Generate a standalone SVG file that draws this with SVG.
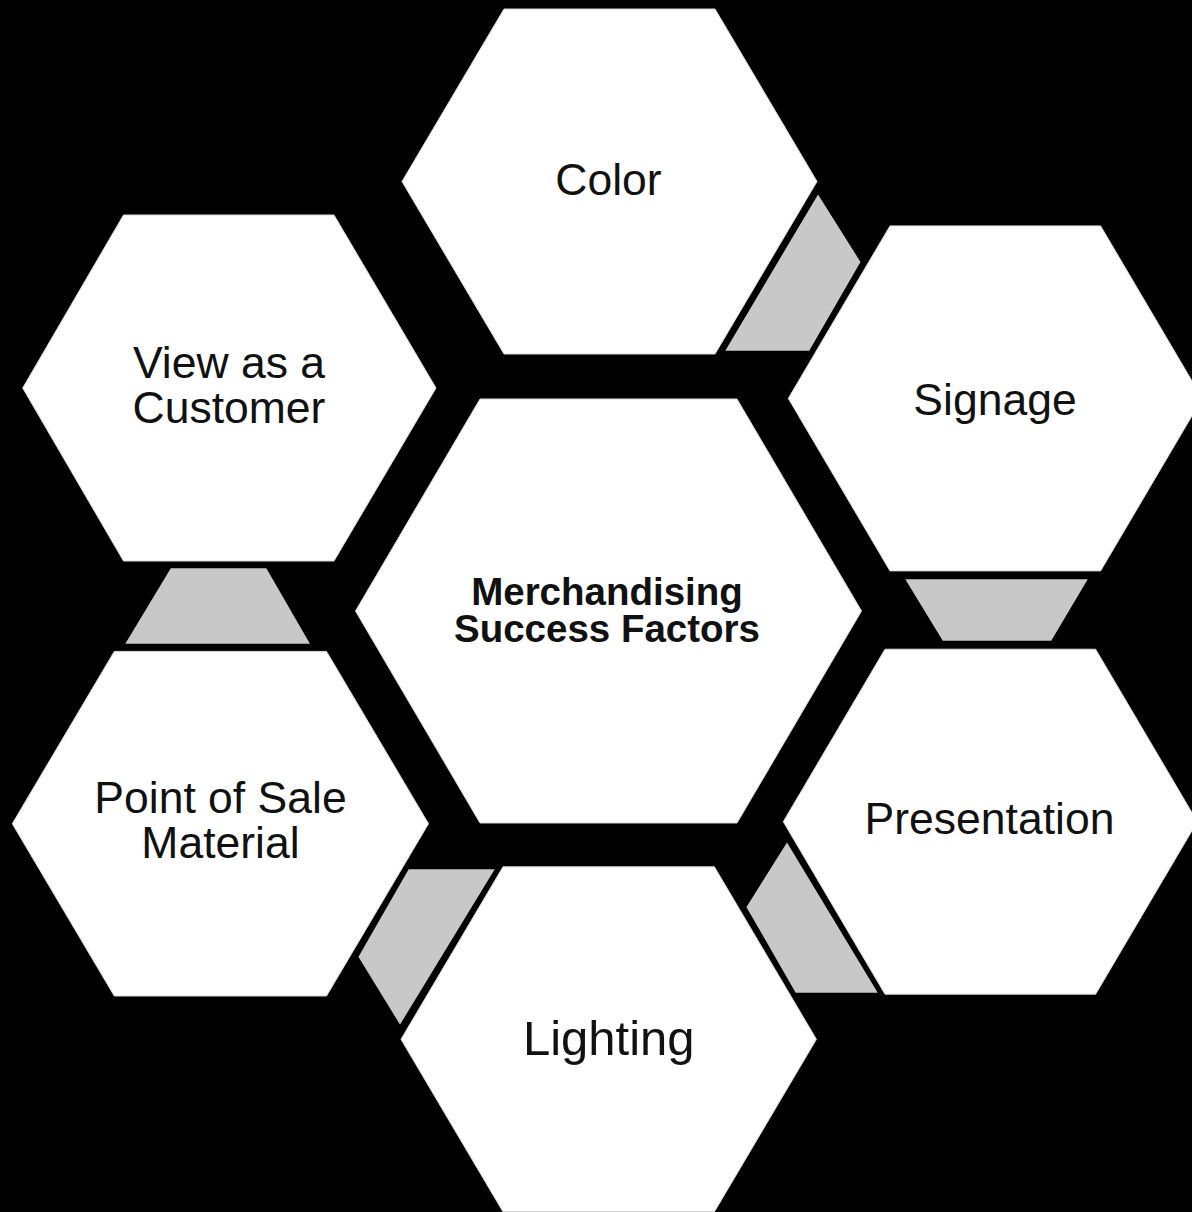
<svg xmlns="http://www.w3.org/2000/svg" width="1192" height="1212" viewBox="0 0 1192 1212">
  <style>
    .hex { fill: #ffffff; stroke: #d8d8d8; stroke-width: 1; }
    .lbl { font-family: "Liberation Sans", Arial, sans-serif; font-size: 44.5px; fill: #111111; text-anchor: middle; }
    .big { font-size: 49px; }
    .hub { font-family: "Liberation Sans", Arial, sans-serif; font-size: 38.5px; font-weight: bold; fill: #111111; text-anchor: middle; }
    .link { fill: #c8c8c8; stroke: #000000; stroke-width: 2.5; stroke-linejoin: miter; }
  </style>

  <!-- background -->
  <rect x="0" y="0" width="1192" height="1212" fill="#000000"/>

  <!-- gray links between neighbouring hexagons -->
  <g id="connectors">
    <polygon class="link" points="818,192 862,262 810,352 723,352"/>
    <polygon class="link" points="903,578 1090,578 1052,642 942,642"/>
    <polygon class="link" points="787,840 880,994 795,994 745,907"/>
    <polygon class="link" points="408,868 497,868 400,1027 357,957"/>
    <polygon class="link" points="123,645 312,645 267,567 170,567"/>
  </g>

  <!-- hub -->
  <g id="hub">
    <polygon class="hex" points="355.5,611 480,399 737,399 861.5,611 737,823 480,823"/>
    <text class="hub" x="607" y="605">Merchandising</text>
    <text class="hub" x="607" y="642">Success Factors</text>
  </g>

  <g id="color">
    <polygon class="hex" points="402,181.5 504,9 715,9 817,181.5 715,354 504,354"/>
    <text class="lbl" x="608.5" y="195">Color</text>
  </g>

  <g id="signage">
    <polygon class="hex" points="788.3,398.4 890,225.9 1100.6,225.9 1202.3,398.4 1100.6,570.9 890,570.9"/>
    <text class="lbl" x="995" y="415">Signage</text>
  </g>

  <g id="presentation">
    <polygon class="hex" points="783.3,821.7 885,649.2 1095.6,649.2 1197.3,821.7 1095.6,994.2 885,994.2"/>
    <text class="lbl" x="989.5" y="834">Presentation</text>
  </g>

  <g id="lighting">
    <polygon class="hex" points="401,1039.3 503,866.8 714.4,866.8 816.4,1039.3 714.4,1211.8 503,1211.8"/>
    <text class="lbl big" x="608.8" y="1055">Lighting</text>
  </g>

  <g id="point-of-sale">
    <polygon class="hex" points="12.3,823.7 114.3,651.4 326.5,651.4 428.5,823.7 326.5,996 114.3,996"/>
    <text class="lbl" x="220.5" y="812.5">Point of Sale</text>
    <text class="lbl" x="220.5" y="858.3">Material</text>
  </g>

  <g id="view-as-customer">
    <polygon class="hex" points="22.7,388 123.5,215 334,215 436,388 334,561 123.5,561"/>
    <text class="lbl" x="229" y="377.7">View as a</text>
    <text class="lbl" x="229" y="423.3">Customer</text>
  </g>
</svg>
